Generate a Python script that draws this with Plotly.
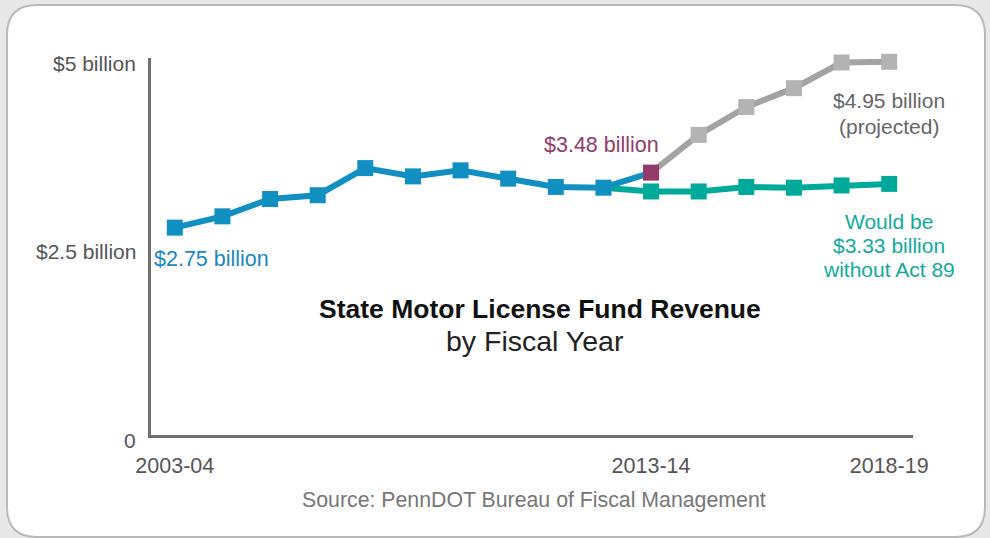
import plotly.graph_objects as go

# Fiscal years on the x axis
years = ["2003-04", "2004-05", "2005-06", "2006-07", "2007-08", "2008-09",
         "2009-10", "2010-11", "2011-12", "2012-13", "2013-14", "2014-15",
         "2015-16", "2016-17", "2017-18", "2018-19"]

# Actual revenue, $ billions (2003-04 .. 2013-14)
actual = [2.75, 2.90, 3.13, 3.18, 3.54, 3.43, 3.51, 3.40, 3.29, 3.28, 3.48]
# Projected revenue with Act 89 (2013-14 .. 2018-19)
projected = [3.48, 3.98, 4.35, 4.60, 4.94, 4.95]
# Revenue without Act 89 (2012-13 .. 2018-19)
without_act = [3.28, 3.23, 3.23, 3.29, 3.28, 3.31, 3.33]

x_tick_labels = ["2003-04", "2013-14", "2018-19"]
y_tick_vals = [0, 2.5, 5]
y_tick_labels = ["0", "$2.5 billion", "$5 billion"]

BLUE = "#118fc1"
PURPLE = "#943a6b"
GREY_LINE = "#a3a3a3"
GREY_MARK = "#b3b3b3"
TEAL = "#00a99a"

W, H = 990, 538
L, R, T, B = 151, 77, 58, 103  # plot-area margins in pixels

idx = list(range(len(years)))
i_actual = idx[:len(actual)]
i_proj = idx[len(actual) - 1:]
i_without = idx[len(actual) - 2:]


def px(xp):
    return (xp - L) / (W - L - R)


def py(yp):
    return (H - B - yp) / (H - T - B)


fig = go.Figure()

fig.add_trace(go.Scatter(x=i_without, y=without_act, mode="lines",
                         line=dict(color=TEAL, width=6), hoverinfo="skip"))
fig.add_trace(go.Scatter(x=i_proj, y=projected, mode="lines",
                         line=dict(color=GREY_LINE, width=6), hoverinfo="skip"))
fig.add_trace(go.Scatter(x=i_actual, y=actual, mode="lines",
                         line=dict(color=BLUE, width=6), hoverinfo="skip"))
fig.add_trace(go.Scatter(x=i_without[1:], y=without_act[1:], mode="markers",
                         marker=dict(symbol="square", size=16, color=TEAL),
                         cliponaxis=False))
fig.add_trace(go.Scatter(x=i_proj[1:], y=projected[1:], mode="markers",
                         marker=dict(symbol="square", size=16, color=GREY_MARK),
                         cliponaxis=False))
fig.add_trace(go.Scatter(x=i_actual[:-1], y=actual[:-1], mode="markers",
                         marker=dict(symbol="square", size=16, color=BLUE),
                         cliponaxis=False))
fig.add_trace(go.Scatter(x=[i_actual[-1]], y=[actual[-1]], mode="markers",
                         marker=dict(symbol="square", size=16, color=PURPLE),
                         cliponaxis=False))

# Rounded card behind the chart
x0, x1, y0, y1, r = 7, 985, 5, 537, 30
card = (f"M {px(x0 + r)},{py(y0)} L {px(x1 - r)},{py(y0)} "
        f"Q {px(x1)},{py(y0)} {px(x1)},{py(y0 + r)} "
        f"L {px(x1)},{py(y1 - r)} Q {px(x1)},{py(y1)} {px(x1 - r)},{py(y1)} "
        f"L {px(x0 + r)},{py(y1)} Q {px(x0)},{py(y1)} {px(x0)},{py(y1 - r)} "
        f"L {px(x0)},{py(y0 + r)} Q {px(x0)},{py(y0)} {px(x0 + r)},{py(y0)} Z")
fig.add_shape(type="path", path=card, xref="paper", yref="paper",
              fillcolor="white", line=dict(color="#b9b9b9", width=2),
              layer="below")

FONT = "Liberation Sans, Arial, sans-serif"
ann = []
for v, t in zip(y_tick_vals, y_tick_labels):
    ann.append(dict(x=0, xref="paper", y=v, yref="y", text=t, showarrow=False,
                    xanchor="right", yanchor="middle", xshift=-13, yshift=-5,
                    font=dict(size=21, color="#555555", family=FONT)))

# Multi-line callouts placed line by line for tighter leading
proj_lines = ["$4.95 billion", "(projected)"]
for k, t in enumerate(proj_lines):
    ann.append(dict(x=15, y=projected[-1], text=t, xanchor="center",
                    yshift=-39 - 26 * k, font=dict(color="#666666", size=21)))

without_lines = ["Would be", "$3.33 billion", "without Act 89"]
for k, t in enumerate(without_lines):
    ann.append(dict(x=15, y=without_act[-1], text=t, xanchor="center",
                    yshift=-38 - 24 * k, font=dict(color="#12aa9c", size=21)))

ann += [
    dict(x=0, y=actual[0], text="$2.75 billion", xanchor="center",
         xshift=37, yshift=-31, font=dict(color="#1a86c0", size=21.5)),
    dict(x=10, y=actual[-1], text="$3.48 billion", xanchor="center",
         xshift=-50, yshift=28, font=dict(color=PURPLE, size=21.5)),
    dict(x=px(540), xref="paper", y=py(309), yref="paper",
         text="<b>State Motor License Fund Revenue</b>", xanchor="center",
         font=dict(color="#111111", size=26.5)),
    dict(x=px(535), xref="paper", y=py(341), yref="paper",
         text="by Fiscal Year", xanchor="center",
         font=dict(color="#222222", size=28.5)),
    dict(x=px(534), xref="paper", y=py(500), yref="paper",
         text="Source: PennDOT Bureau of Fiscal Management", xanchor="center",
         font=dict(color="#777777", size=21.3)),
]
for a in ann:
    a.setdefault("xref", "x")
    a.setdefault("yref", "y")
    a.setdefault("showarrow", False)
    a.setdefault("yanchor", "middle")
    a["font"].setdefault("family", FONT)

fig.update_layout(
    width=W, height=H,
    margin=dict(l=L, r=R, t=T, b=B),
    paper_bgcolor="#e8e8e9",
    plot_bgcolor="rgba(0,0,0,0)",
    showlegend=False,
    annotations=ann,
    xaxis=dict(range=[-0.5, 15.5], tickvals=[0, 10, 15], ticktext=x_tick_labels,
               showline=True, linecolor="#6e6e6e", linewidth=3, showgrid=False,
               zeroline=False, ticks="", ticklabelstandoff=9,
               tickfont=dict(size=21.5, color="#555555", family=FONT)),
    yaxis=dict(range=[0, 5], showline=True, linecolor="#6e6e6e", linewidth=3,
               showgrid=False, zeroline=False, showticklabels=False, ticks=""),
)

fig.write_html("out.html", config={"displayModeBar": False})
